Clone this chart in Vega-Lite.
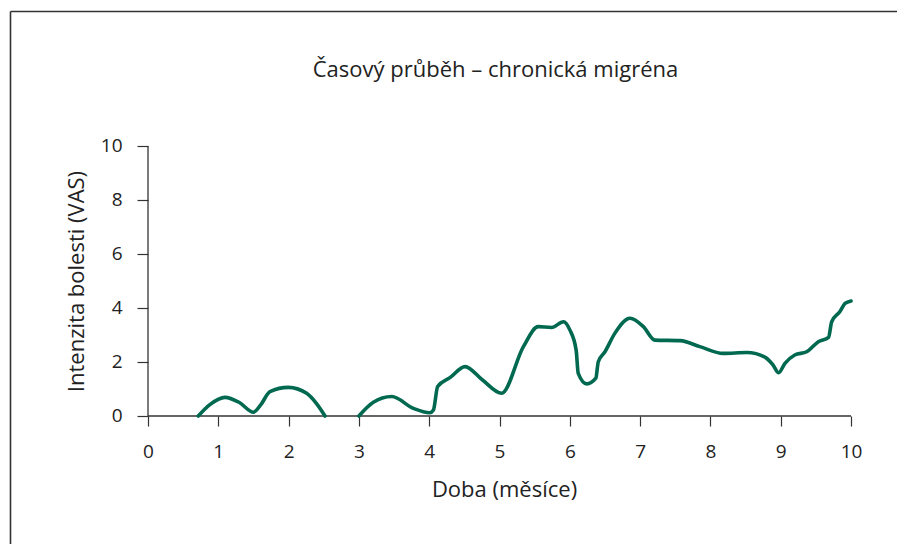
{
  "$schema": "https://vega.github.io/schema/vega-lite/v6.json",
  "width": 887,
  "height": 533,
  "autosize": {"type": "none"},
  "padding": {"left": 10, "top": 11, "right": 0, "bottom": 0},
  "background": "white",
  "config": {
    "view": {"stroke": null},
    "font": "Open Sans"
  },
  "title": {
    "text": "Časový průběh – chronická migréna",
    "anchor": "middle",
    "frame": "group",
    "baseline": "middle",
    "offset": 0,
    "dy": 81,
    "dx": 42,
    "fontSize": 22,
    "fontWeight": "normal",
    "color": "#222222",
    "font": "Open Sans"
  },
  "resolve": {"axis": {"x": "independent", "y": "independent"}},
  "layer": [
    {
      "data": {"values": [{"mesic": 0, "mesic2": 10, "vas": 0}]},
      "mark": {"type": "rule", "color": "#333333", "strokeWidth": 1.3},
      "encoding": {
        "x": {
          "field": "mesic",
          "type": "quantitative",
          "scale": {"domain": [-1.963, 10.654], "nice": false, "zero": false},
          "axis": {"orient": "top", "offset": 0, "title": null, "labels": false, "ticks": false, "grid": false, "domain": true, "domainColor": "#333333", "domainWidth": 1.6}
        },
        "x2": {"field": "mesic2"},
        "y": {
          "field": "vas",
          "type": "quantitative",
          "scale": {"domain": [-4.741, 15], "nice": false, "zero": false},
          "axis": {"orient": "left", "offset": 0, "title": null, "labels": false, "ticks": false, "grid": false, "domain": true, "domainColor": "#333333", "domainWidth": 1.6}
        }
      }
    },
    {
      "data": {"values": [{"mesic": 0, "vas": 0, "vas2": 10}]},
      "mark": {"type": "rule", "color": "#333333", "strokeWidth": 1.3},
      "encoding": {
        "x": {"field": "mesic", "type": "quantitative", "axis": null},
        "y": {"field": "vas", "type": "quantitative", "axis": null},
        "y2": {"field": "vas2"}
      }
    },
    {
      "data": {"values": [
        {"seg": "a", "mesic": 0.715, "vas": 0},
        {"seg": "a", "mesic": 0.88, "vas": 0.42},
        {"seg": "a", "mesic": 1.095, "vas": 0.69},
        {"seg": "a", "mesic": 1.3, "vas": 0.5},
        {"seg": "a", "mesic": 1.5, "vas": 0.14},
        {"seg": "a", "mesic": 1.6, "vas": 0.4},
        {"seg": "a", "mesic": 1.735, "vas": 0.9},
        {"seg": "a", "mesic": 1.996, "vas": 1.06},
        {"seg": "a", "mesic": 2.257, "vas": 0.84},
        {"seg": "a", "mesic": 2.4, "vas": 0.45},
        {"seg": "a", "mesic": 2.518, "vas": 0},
        {"seg": "b", "mesic": 3.0, "vas": 0},
        {"seg": "b", "mesic": 3.2, "vas": 0.5},
        {"seg": "b", "mesic": 3.466, "vas": 0.72},
        {"seg": "b", "mesic": 3.775, "vas": 0.28},
        {"seg": "b", "mesic": 4.01, "vas": 0.12},
        {"seg": "b", "mesic": 4.06, "vas": 0.22},
        {"seg": "b", "mesic": 4.12, "vas": 1.09},
        {"seg": "b", "mesic": 4.3, "vas": 1.43},
        {"seg": "b", "mesic": 4.51, "vas": 1.83},
        {"seg": "b", "mesic": 4.75, "vas": 1.35},
        {"seg": "b", "mesic": 5.03, "vas": 0.84},
        {"seg": "b", "mesic": 5.34, "vas": 2.57},
        {"seg": "b", "mesic": 5.55, "vas": 3.31},
        {"seg": "b", "mesic": 5.74, "vas": 3.28},
        {"seg": "b", "mesic": 5.91, "vas": 3.49},
        {"seg": "b", "mesic": 6.0, "vas": 3.19},
        {"seg": "b", "mesic": 6.09, "vas": 2.44},
        {"seg": "b", "mesic": 6.12, "vas": 1.58},
        {"seg": "b", "mesic": 6.24, "vas": 1.19},
        {"seg": "b", "mesic": 6.37, "vas": 1.4},
        {"seg": "b", "mesic": 6.405, "vas": 2.01},
        {"seg": "b", "mesic": 6.5, "vas": 2.38},
        {"seg": "b", "mesic": 6.64, "vas": 3.06},
        {"seg": "b", "mesic": 6.856, "vas": 3.62},
        {"seg": "b", "mesic": 7.046, "vas": 3.31},
        {"seg": "b", "mesic": 7.21, "vas": 2.81},
        {"seg": "b", "mesic": 7.57, "vas": 2.79},
        {"seg": "b", "mesic": 7.85, "vas": 2.57},
        {"seg": "b", "mesic": 8.18, "vas": 2.32},
        {"seg": "b", "mesic": 8.52, "vas": 2.35},
        {"seg": "b", "mesic": 8.78, "vas": 2.17},
        {"seg": "b", "mesic": 8.89, "vas": 1.89},
        {"seg": "b", "mesic": 8.97, "vas": 1.6},
        {"seg": "b", "mesic": 9.06, "vas": 1.95},
        {"seg": "b", "mesic": 9.2, "vas": 2.26},
        {"seg": "b", "mesic": 9.37, "vas": 2.38},
        {"seg": "b", "mesic": 9.535, "vas": 2.75},
        {"seg": "b", "mesic": 9.68, "vas": 2.91},
        {"seg": "b", "mesic": 9.725, "vas": 3.49},
        {"seg": "b", "mesic": 9.84, "vas": 3.86},
        {"seg": "b", "mesic": 9.915, "vas": 4.17},
        {"seg": "b", "mesic": 10.0, "vas": 4.26}
      ]},
      "mark": {"type": "line", "interpolate": "monotone", "color": "#00694f", "strokeWidth": 3.6, "strokeCap": "round", "strokeJoin": "round"},
      "encoding": {
        "detail": {"field": "seg", "type": "nominal"},
        "x": {
          "field": "mesic",
          "type": "quantitative",
          "axis": {
            "orient": "bottom",
            "title": "Doba (měsíce)",
            "titleX": 494,
            "values": [0, 1, 2, 3, 4, 5, 6, 7, 8, 9, 10],
            "offset": -128,
            "domain": false,
            "grid": false,
            "tickSize": 10,
            "tickColor": "#333333",
            "tickWidth": 1.2,
            "labelFontSize": 19,
            "labelColor": "#222222",
            "labelPadding": 16,
            "labelFont": "Open Sans",
            "titleFont": "Open Sans",
            "titleFontSize": 22,
            "titleFontWeight": "normal",
            "titleColor": "#222222",
            "titlePadding": 18
          }
        },
        "y": {
          "field": "vas",
          "type": "quantitative",
          "axis": {
            "orient": "left",
            "title": "Intenzita bolesti (VAS)",
            "titleY": 270,
            "values": [0, 2, 4, 6, 8, 10],
            "offset": -138,
            "domain": false,
            "grid": false,
            "tickSize": 11,
            "tickColor": "#333333",
            "tickWidth": 1.2,
            "labelFontSize": 19,
            "labelColor": "#222222",
            "labelPadding": 15,
            "labelFont": "Open Sans",
            "titleFont": "Open Sans",
            "titleFontSize": 22,
            "titleFontWeight": "normal",
            "titleColor": "#222222",
            "titlePadding": 12
          }
        }
      }
    }
  ]
}
